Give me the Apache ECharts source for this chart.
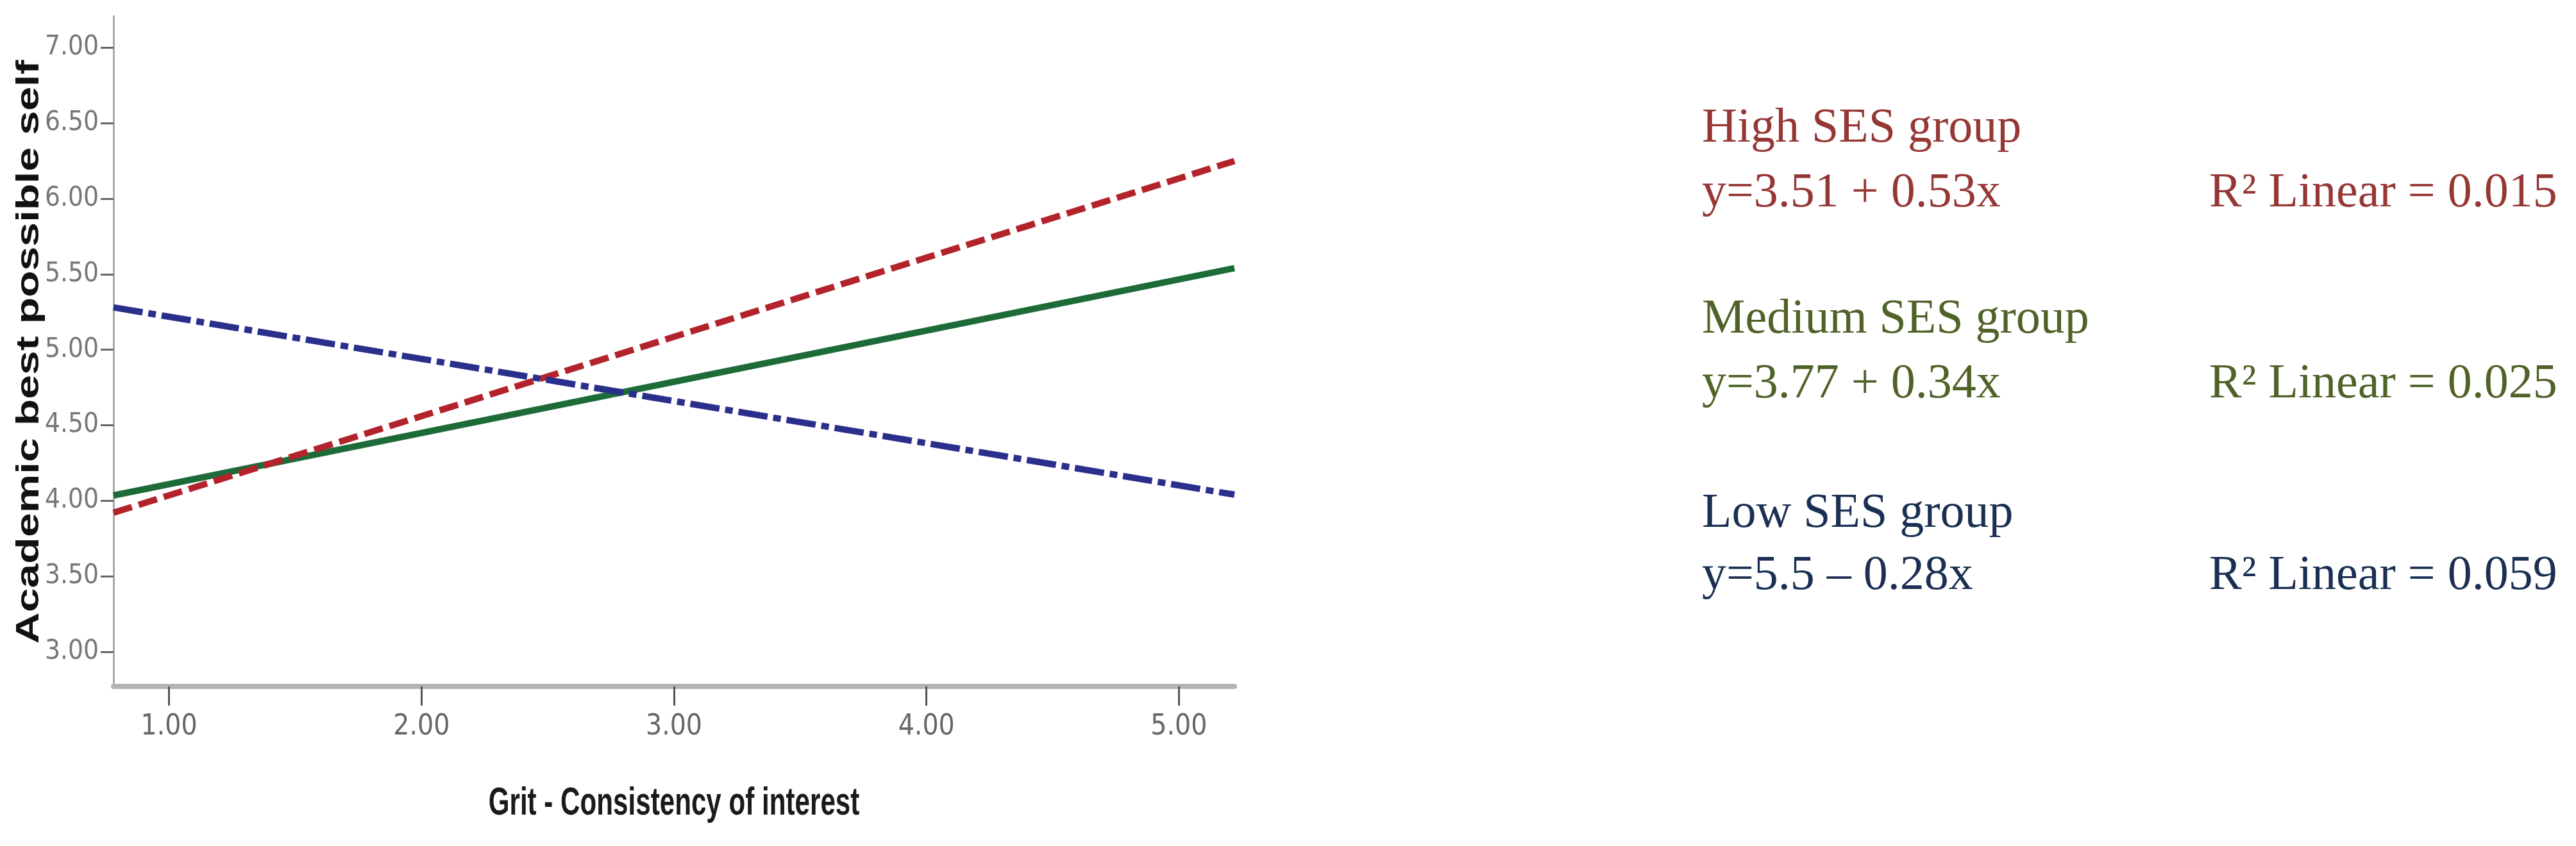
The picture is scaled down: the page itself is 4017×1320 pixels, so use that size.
<!DOCTYPE html>
<html>
<head>
<meta charset="utf-8">
<script src="https://cdn.jsdelivr.net/npm/echarts@6/dist/echarts.min.js"></script>
<style>
html,body{margin:0;padding:0;background:#fff;}
#chart{width:4017px;height:1320px;}
</style>
</head>
<body>
<div id="chart"></div>
<script>
// ---- data ----
const xTicks = [1, 2, 3, 4, 5];
const yTicks = [3, 3.5, 4, 4.5, 5, 5.5, 6, 6.5, 7];
const xEnds = [0.78, 5.22];
const highY = [3.92, 6.25];
const mediumY = [4.035, 5.54];
const lowY = [5.28, 4.04];
const groupNames = ['High SES group', 'Medium SES group', 'Low SES group'];
const equations = ['y=3.51 + 0.53x', 'y=3.77 + 0.34x', 'y=5.5 \u2013 0.28x'];
const r2Labels = ['R\u00b2 Linear = 0.015', 'R\u00b2 Linear = 0.025', 'R\u00b2 Linear = 0.059'];
const xTitle = 'Grit - Consistency of interest';
const yTitle = 'Academic best possible self';

const lineColors = ['#b3232b', '#1d6b38', '#2b2f8c'];
const textColors = ['#953735', '#4f6228', '#1a2f52'];

function pairs(ys) { return xEnds.map((x, i) => [x, ys[i]]); }

const narrow = "'DejaVu Sans Condensed','Liberation Sans Narrow','Arial Narrow',sans-serif";
const serif = "'Liberation Serif','Times New Roman',serif";

const chart = echarts.init(document.getElementById('chart'), null, {renderer: 'canvas'});

const legendX = 2654, r2X = 3445;
const nameTop = [163, 461, 764];
const eqTop = [264, 562, 861];
const graphics = [];
for (let i = 0; i < 3; i++) {
  graphics.push({type: 'text', left: legendX, top: nameTop[i],
    style: {text: groupNames[i], fill: textColors[i], font: '76px ' + serif}});
  graphics.push({type: 'text', left: legendX, top: eqTop[i],
    style: {text: equations[i], fill: textColors[i], font: '76px ' + serif}});
  graphics.push({type: 'text', left: r2X, top: eqTop[i],
    style: {text: r2Labels[i], fill: textColors[i], font: '76px ' + serif}});
}
// axis titles (horizontally condensed like the reference)
graphics.push({type: 'text', x: 1051, y: 1254, scaleX: 0.68, scaleY: 1,
  style: {text: xTitle, fill: '#1a1a1a', font: "bold 62px 'Liberation Sans',Arial,sans-serif",
    align: 'center', verticalAlign: 'middle'}});
graphics.push({type: 'text', x: 46, y: 549, rotation: Math.PI / 2, scaleX: 1, scaleY: 0.74,
  style: {text: yTitle, fill: '#111', font: "bold 68px 'Liberation Sans',Arial,sans-serif",
    align: 'center', verticalAlign: 'middle'}});

chart.setOption({
  backgroundColor: '#ffffff',
  animation: false,
  grid: {left: 177, right: 4017 - 1925, top: 25, bottom: 1320 - 1071},
  xAxis: {
    type: 'value', min: 0.78, max: 5.22,
    axisLine: {show: true, onZero: false, lineStyle: {color: '#b4b4b4', width: 8}},
    axisTick: {show: true, length: 30, customValues: xTicks, lineStyle: {color: '#555', width: 3}},
    axisLabel: {customValues: xTicks, margin: 42, fontFamily: narrow, fontSize: 44, color: '#666',
      formatter: v => v.toFixed(2)},
    splitLine: {show: false}
  },
  yAxis: {
    type: 'value', min: 2.77, max: 7.21,
    axisLine: {show: true, lineStyle: {color: '#a8a8a8', width: 3}},
    axisTick: {show: true, length: 20, customValues: yTicks, lineStyle: {color: '#666', width: 3}},
    axisLabel: {customValues: yTicks, margin: 23, fontFamily: narrow, fontSize: 42, color: '#777',
      formatter: v => v.toFixed(2)},
    splitLine: {show: false}
  },
  graphic: graphics,
  series: [
    {name: groupNames[1], type: 'line', data: pairs(mediumY), symbol: 'none',
      lineStyle: {color: lineColors[1], width: 10, type: 'solid'}},
    {name: groupNames[0], type: 'line', data: pairs(highY), symbol: 'none',
      lineStyle: {color: lineColors[0], width: 10, type: [30, 11]}},
    {name: groupNames[2], type: 'line', data: pairs(lowY), symbol: 'none',
      lineStyle: {color: lineColors[2], width: 10, type: [46, 9, 12, 9]}}
  ]
});
</script>
</body>
</html>
